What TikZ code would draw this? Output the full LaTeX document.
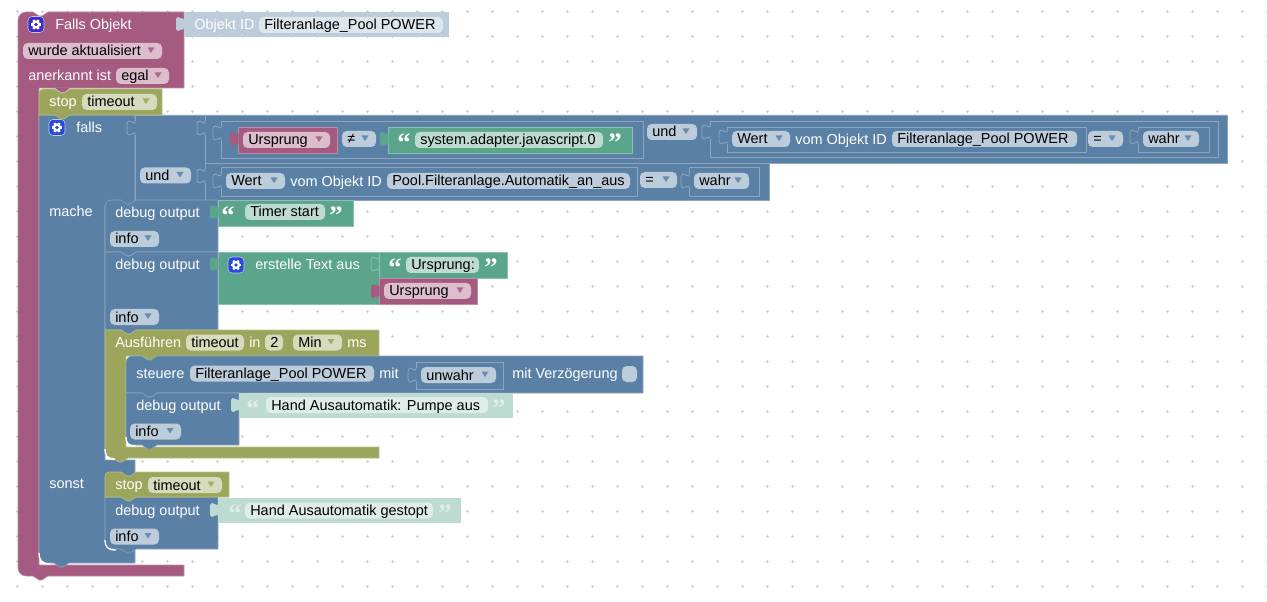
\documentclass[tikz,border=0pt]{standalone}
\usepackage{fontspec}
\setmainfont{Liberation Sans}
\newfontfamily\qfont{Liberation Serif}
\usetikzlibrary{positioning}
\definecolor{mar}{HTML}{A55B80}
\definecolor{marl}{HTML}{C08CA6}
\definecolor{marf}{HTML}{DBBDCC}
\definecolor{blu}{HTML}{5B80A5}
\definecolor{blul}{HTML}{8CA6C0}
\definecolor{bluf}{HTML}{BDCCDB}
\definecolor{grn}{HTML}{5BA58C}
\definecolor{grnl}{HTML}{8CC0AE}
\definecolor{grnf}{HTML}{BDDBD1}
\definecolor{olv}{HTML}{9BA55B}
\definecolor{olvl}{HTML}{B9C08C}
\definecolor{olvf}{HTML}{D7DBBD}
\definecolor{shb}{HTML}{BDCCDB}
\definecolor{shbf}{HTML}{DEE6ED}
\definecolor{shg}{HTML}{BDDBD1}
\definecolor{shgf}{HTML}{DEEDE8}
\definecolor{griddot}{HTML}{CFCFCF}
\definecolor{gearmar}{HTML}{3F2DC6}
\definecolor{gearblu}{HTML}{2A4BD7}
\tikzset{
  lbl/.style={anchor=base west, inner sep=0pt, text=white, font=\fontsize{10.85}{13}\selectfont},
  fldtxt/.style={lbl, text=black},
  qmark/.style={anchor=center, inner sep=0pt, font=\fontsize{20}{20}\selectfont\qfont\bfseries},
  bmar/.style={fill=mar, draw=marl, line width=.4pt},
  bblu/.style={fill=blu, draw=blul, line width=.4pt},
  bgrn/.style={fill=grn, draw=grnl, line width=.4pt},
  bolv/.style={fill=olv, draw=olvl, line width=.4pt},
  frame/.style={draw=blul, line width=.6pt},
  corner/.style={draw=white, line width=1pt}
}
% text, and fields: name, x left, x right, y centre, colour, text
\newcommand{\lab}[4]{\node[lbl] (#1) at (#2,#3+5.5) {#4};}
\newcommand{\fld}[6]{\fill[#5f, rounded corners=3.5pt] (#2,#4-8) rectangle (#3,#4+8);
  \node[fldtxt] (#1) at (#2+5,#4+5) {#6};}
\newcommand{\dd}[6]{\fld{#1}{#2}{#3}{#4}{#5}{#6}
  \fill[#5, opacity=.85] (#3-14.5,#4-3.5) -- ++(7,0) -- ++(-3.5,5.5) -- cycle;}
\newcommand{\nt}[2]{-- (#1,#2) -- ++(6,4) -- ++(3,0) -- ++(6,-4)}
\newcommand{\nb}[2]{-- (#1+15,#2) -- ++(-6,4) -- ++(-3,0) -- ++(-6,-4)}
\newcommand{\tabshape}[2]{(#1,#2+2) .. controls (#1-2,#2+3) and (#1-3,#2) .. (#1-6,#2) .. controls (#1-8,#2) and (#1-8,#2+2) .. (#1-8,#2+7) .. controls (#1-8,#2+12) and (#1-8,#2+14) .. (#1-6,#2+14) .. controls (#1-3,#2+14) and (#1-2,#2+11) .. (#1,#2+12)}
\newcommand{\tabf}[3]{\fill[#3] \tabshape{#1}{#2} -- (#1+.5,#2+12) -- (#1+.5,#2+2) -- cycle;}
\newcommand{\tabl}[2]{\fill[blu] (#1-8,#2) rectangle (#1+.5,#2+14);
  \draw[blul, line width=.6pt] (#1,#2) -- \tabshape{#1}{#2} -- (#1,#2+14);}
\newcommand{\gear}[4]{\fill[#4, rounded corners=3pt, draw=white!70!#4, line width=.4pt] (#2-8,#3-8) rectangle (#2+8,#3+8);
  \foreach \a in {0,60,...,300} {\draw[white, line width=1.6pt] (#2,#3) -- ++(\a:5.2);}
  \fill[white] (#2,#3) circle (4.2);
  \fill[#4] (#2,#3) circle (1.8);
  \coordinate (#1) at (#2,#3);}
\newcommand{\qt}[4]{\node[qmark, text=#3] (#1) at (#2,#4) {“};}
\newcommand{\qe}[4]{\node[qmark, text=#3] (#1) at (#2,#4) {”};}
\begin{document}
\begin{tikzpicture}[x=0.75pt,y=-0.75pt]
  \useasboundingbox (0,0) rectangle (1267,602);
  \fill[white] (0,0) rectangle (1267,602);
  \foreach \i in {0,...,50} {
    \foreach \j in {0,...,23} {
      \draw[griddot, line width=.55pt] (17.3+25*\i-1.5,11.4+25*\j) -- ++(3,0);
      \draw[griddot, line width=.55pt] (17.3+25*\i,11.4+25*\j-1.5) -- ++(0,3);
    }
  }
  % trigger
  \path[bmar] [rounded corners=6pt] (18,50) -- (18,12) [sharp corners] \nt{33}{12} -- (184,12) -- (184,88) -- (39,88) -- (39,565) -- (184,565) -- (184,576) \nb{33}{576} [rounded corners=6pt] -- (18,576) -- (18,500) [sharp corners] -- cycle;
  \gear{gtrig}{36}{24.5}{gearmar}
  \lab{ltrig}{55}{24}{Falls Objekt}
  \fill[shb] (184,12) rectangle (449,37);
  \tabf{184}{17}{shb}
  \lab{lobj}{194}{24}{Objekt ID}
  \fld{fobj}{259}{443}{25}{shb}{Filteranlage\_Pool POWER}
  \dd{fwurde}{23}{162}{51}{mar}{wurde aktualisiert}
  \lab{lanerk}{28}{75}{anerkannt ist}
  \dd{fegal}{116}{169}{76}{mar}{egal}
  % if block
  \path[bblu] (39,115) -- (135,115) -- (135,206) -- (105,206) -- (105,460) -- (135,460) -- (135,563) \nb{54}{563} [rounded corners=6pt] -- (39,563) -- (39,500) [sharp corners] -- cycle;
  \draw[corner] (39,553) .. controls (39,560) and (42,564) .. (50,564);
  \path[bblu] (135,115) -- (1227,115) -- (1227,163) -- (769,163) -- (769,200) -- (135,200) -- cycle;
  \draw[blul, line width=.6pt] (205,115) -- (205,200);
  \draw[blul, line width=.6pt] (205,163) -- (769,163);
  \tabl{135}{121}
  \tabl{205}{121}
  \tabl{205}{169}
  \gear{gfalls}{57}{127.5}{gearblu}
  \lab{lfalls}{76}{127}{falls}
  \lab{lmache}{49}{211}{mache}
  \lab{lsonst}{49}{483}{sonst}
  \dd{fund}{140}{191}{175.5}{blu}{und}
  % first condition
  \path[frame] (221,121) rectangle (643,158);
  \tabl{221}{126}
  \path[bmar] (238,127) rectangle (337,153);
  \tabf{238}{132}{mar}
  \dd{furs}{243}{330}{140}{mar}{Ursprung}
  \dd{fneq}{342}{376}{139}{blu}{≠}
  \path[bgrn] (388,127) rectangle (632,153);
  \tabf{388}{132}{grn}
  \qt{qa}{404}{white}{143}
  \fld{fsys}{415}{603}{140}{grn}{system.adapter.javascript.0}
  \qe{qb}{615}{white}{143}
  \dd{fund2}{647}{697}{132}{blu}{und}
  \path[frame] (710,121) rectangle (1218,157);
  \tabl{710}{125}
  \path[frame] (727,127) rectangle (1086,152);
  \tabl{727}{130}
  \dd{fwert}{732}{790}{139}{blu}{Wert}
  \lab{lvom}{795}{139}{vom Objekt ID}
  \fld{fid}{892}{1077}{139}{blu}{Filteranlage\_Pool POWER}
  \dd{feq}{1088}{1123}{139}{blu}{=}
  \path[frame] (1138,127) rectangle (1209,152);
  \tabl{1138}{130}
  \dd{fwahr}{1143}{1199}{139}{blu}{wahr}
  % second condition
  \path[frame] (221,167) rectangle (637,196);
  \tabl{221}{174}
  \dd{fwert2}{226}{285}{181}{blu}{Wert}
  \lab{lvom2}{290}{181}{vom Objekt ID}
  \fld{fid2}{387}{630}{181}{blu}{Pool.Filteranlage.Automatik\_an\_aus}
  \dd{feq2}{640}{677}{180}{blu}{=}
  \path[frame] (689,167) rectangle (759,196);
  \tabl{689}{174}
  \dd{fwahr2}{694}{749}{181}{blu}{wahr}
  % stop
  \path[bolv] [rounded corners=3pt] (39,100) -- (39,89) [sharp corners] \nt{55}{89} -- (162,89) -- (162,115) \nb{55}{115} -- (39,115) -- cycle;
  \fill[mar] (55,88) -- ++(6,4.5) -- ++(3,0) -- ++(6,-4.5) -- cycle;
  \lab{lstop}{49}{101}{stop}
  \dd{fstop}{82}{157}{102}{olv}{timeout}
  % mache
  \path[bblu] [rounded corners=5pt] (105,225) -- (105,200) [sharp corners] \nt{121}{200} -- (218,200) -- (218,252) \nb{121}{252} -- (105,252) -- cycle;
  \lab{ldbg}{115}{212}{debug output}
  \dd{finfo}{110}{159}{239}{blu}{info}
  \path[bgrn] (218,200) rectangle (353,226);
  \tabf{218}{205}{grn}
  \qt{qc}{228}{white}{216}
  \fld{ftimer}{245}{325}{212}{grn}{Timer start}
  \qe{qd}{336}{white}{216}
  \path[bblu] (105,252) \nt{121}{252} -- (218,252) -- (218,330) \nb{121}{330} -- (105,330) -- cycle;
  \lab{ldbg2}{115}{264}{debug output}
  \dd{finfo2}{110}{159}{317}{blu}{info}
  \path[bgrn] (218,252) -- (379,252) -- (379,304) -- (218,304) -- cycle;
  \tabf{218}{257}{grn}
  \gear{gtext}{236}{265}{gearblu}
  \lab{ltext}{255}{264}{erstelle Text aus}
  \path[bgrn] (379,252) rectangle (507,278);
  \draw[grnl, line width=.6pt] (379,257) -- \tabshape{379}{257} -- (379,271);
  \qt{qe}{395}{white}{268}
  \fld{fursp}{406}{479}{265}{grn}{Ursprung:}
  \qe{qf}{491}{white}{268}
  \path[bmar] (379,278) rectangle (477,304);
  \tabf{379}{284}{mar}
  \dd{furs2}{384}{471}{291}{mar}{Ursprung}
  % timeout
  \path[bolv] (105,330) \nt{121}{330} -- (379,330) -- (379,356) -- (158,356) -- ++(-6,4) -- ++(-3,0) -- ++(-6,-4) -- (126,356) -- (126,447) -- (379,447) -- (379,458) \nb{113}{458} [rounded corners=5pt] -- (105,458) -- (105,440) [sharp corners] -- cycle;
  \draw[corner] (105,449) .. controls (105,455) and (107,459) .. (115,459);
  \lab{laus}{115}{342}{Ausführen}
  \fld{ftime}{186}{244}{342.5}{olv}{timeout}
  \lab{lin}{249}{342}{in}
  \fld{ftwo}{265}{283}{342.5}{olv}{2}
  \dd{fmin}{293}{342}{342.5}{olv}{Min}
  \lab{lms}{347}{342}{ms}
  \path[bblu] [rounded corners=5pt] (126,375) -- (126,356) [sharp corners] \nt{142}{356} -- (643,356) -- (643,393) \nb{142}{393} -- (126,393) -- cycle;
  \lab{lsteu}{136}{373}{steuere}
  \fld{fpow}{190}{374}{373.5}{blu}{Filteranlage\_Pool POWER}
  \lab{lmit}{379}{373}{mit}
  \path[frame] (416,362) rectangle (503,389);
  \tabl{416}{368}
  \dd{funw}{421}{496}{375}{blu}{unwahr}
  \lab{lverz}{512}{373}{mit Verzögerung}
  \fill[bluf, rounded corners=3.5pt] (622,366) rectangle (637,382);
  \path[bblu] (126,393) \nt{142}{393} -- (239,393) -- (239,445) \nb{142}{445} [rounded corners=5pt] -- (126,445) -- (126,420) [sharp corners] -- cycle;
  \draw[corner] (126,437) .. controls (126,443) and (128,446) .. (136,446);
  \lab{ldbg3}{136}{405}{debug output}
  \dd{finfo3}{130}{181}{431.5}{blu}{info}
  \fill[shg] (239,393) rectangle (513,418);
  \tabf{239}{398}{shg}
  \qt{qg}{253}{shgf}{409}
  \fld{fhand}{266}{488}{405}{shg}{Hand Ausautomatik: Pumpe aus}
  \qe{qh}{499}{shgf}{409}
  % sonst
  \path[bblu] (105,497) -- (218,497) -- (218,549) \nb{121}{549} [rounded corners=5pt] -- (105,549) -- (105,520) [sharp corners] -- cycle;
  \draw[corner] (105,540) .. controls (105,547) and (108,550) .. (116,550);
  \lab{ldbg4}{115}{510}{debug output}
  \dd{finfo4}{110}{159}{536.5}{blu}{info}
  \path[bolv] [rounded corners=3pt] (105,485) -- (105,472) [sharp corners] \nt{121}{472} -- (229,472) -- (229,497) \nb{121}{497} -- (105,497) -- cycle;
  \lab{lstop2}{115}{484}{stop}
  \dd{fstop2}{148}{222}{485}{olv}{timeout}
  \fill[shg] (218,498) rectangle (461,523);
  \tabf{218}{503}{shg}
  \qt{qi}{235}{shgf}{514}
  \fld{fhand2}{245}{433}{510.5}{shg}{Hand Ausautomatik gestopt}
  \qe{qj}{445}{shgf}{514}
\end{tikzpicture}
\end{document}
